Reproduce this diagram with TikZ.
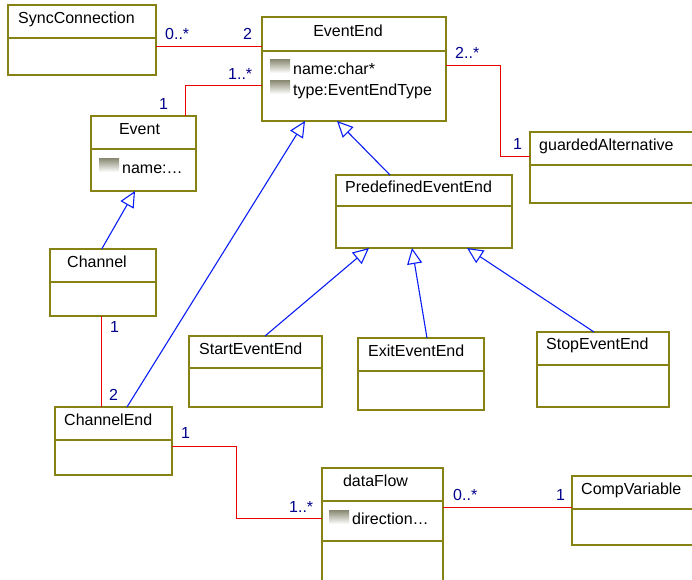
\documentclass[tikz,border=0pt]{standalone}
\usepackage{fontspec}
\setmainfont{Liberation Sans}
\usetikzlibrary{arrows.meta}

\definecolor{umlolive}{RGB}{134,130,20}
\definecolor{assocred}{RGB}{235,0,0}
\definecolor{genblue}{RGB}{10,30,245}
\definecolor{multnavy}{RGB}{0,0,140}
\definecolor{icongray}{RGB}{135,135,112}

\tikzset{
  cls/.style={draw=umlolive, line width=1.4pt, anchor=north west, inner sep=0pt, outer sep=0pt},
  clsline/.style={draw=umlolive, line width=1.4pt},
  ttl/.style={anchor=base west, inner sep=0pt, font=\fontsize{16}{18}\selectfont},
  ttlc/.style={ttl, anchor=base},
  mult/.style={ttl, text=multnavy},
  icon/.style={top color=icongray, bottom color=white},
  assoc/.style={draw=assocred, line width=1pt},
  gen/.style={draw=genblue, line width=1.1pt, -{Triangle[open, length=16pt, width=15pt]}}
}

% class box: name, corner, width, height, depth of the divider
\newcommand{\umlclass}[5]{%
  \node[cls, minimum width=#3, minimum height=#4] (#1) at (#2) {};
  \draw[clsline] ([yshift=-#5]#1.north west) -- ([yshift=-#5]#1.north east);
}

\begin{document}
\begin{tikzpicture}[x=1pt, y=-1pt]
  \useasboundingbox[fill=white] (0,0) rectangle (692,579);

  % classes
  \umlclass{sync}{8,5}{148}{70}{33}
  \umlclass{eventend}{262,17}{184}{104}{34}
  \umlclass{event}{91,116}{105}{75}{33}
  \umlclass{guarded}{530,132}{180}{71}{33}
  \umlclass{predef}{336,175}{176}{73}{31}
  \umlclass{channel}{50,249}{106}{67}{33}
  \umlclass{startee}{189,336}{133}{71}{32}
  \umlclass{exitee}{358,338}{126}{72}{33}
  \umlclass{stopee}{537,332}{132}{75}{33}
  \umlclass{chanend}{55,407}{117}{68}{33}
  \umlclass{dataflow}{322,468}{121}{125}{33}
  \umlclass{compvar}{572,476}{140}{69}{33}
  \draw[clsline] ([yshift=-73]dataflow.north west) -- ([yshift=-73]dataflow.north east);

  % titles
  \node[ttl] (syncT) at ([xshift=10, yshift=-18]sync.north west) {SyncConnection};
  \node[ttlc] (eventendT) at ([xshift=-6, yshift=-19]eventend.north) {EventEnd};
  \node[ttlc] (eventT) at ([xshift=-4, yshift=-18]event.north) {Event};
  \node[ttl] (guardedT) at ([xshift=9, yshift=-18]guarded.north west) {guardedAlternative};
  \node[ttl] (predefT) at ([xshift=9, yshift=-17]predef.north west) {PredefinedEventEnd};
  \node[ttlc] (channelT) at ([xshift=-6, yshift=-18]channel.north) {Channel};
  \node[ttl] (starteeT) at ([xshift=10, yshift=-18]startee.north west) {StartEventEnd};
  \node[ttl] (exiteeT) at ([xshift=10, yshift=-18]exitee.north west) {ExitEventEnd};
  \node[ttl] (stopeeT) at ([xshift=9, yshift=-17]stopee.north west) {StopEventEnd};
  \node[ttl] (chanendT) at ([xshift=9, yshift=-18]chanend.north west) {ChannelEnd};
  \node[ttlc] (dataflowT) at ([xshift=-7, yshift=-18]dataflow.north) {dataFlow};
  \node[ttl] (compvarT) at ([xshift=9, yshift=-18]compvar.north west) {CompVariable};

  % attributes
  \shade[icon] ([xshift=8, yshift=-42]eventend.north west) rectangle ++(20,14);
  \shade[icon] ([xshift=8, yshift=-63]eventend.north west) rectangle ++(20,14);
  \node[ttl] (eeName) at ([xshift=31, yshift=-57]eventend.north west) {name:char*};
  \node[ttl] (eeType) at ([xshift=31, yshift=-78]eventend.north west) {type:EventEndType};
  \shade[icon] ([xshift=8, yshift=-42]event.north west) rectangle ++(20,14);
  \node[ttl] (evName) at ([xshift=31, yshift=-57]event.north west) {name:…};
  \shade[icon] ([xshift=7, yshift=-42]dataflow.north west) rectangle ++(20,14);
  \node[ttl] (dfDir) at ([xshift=30, yshift=-56]dataflow.north west) {direction…};

  % associations
  \draw[assoc] ([yshift=-6.5]sync.east) -- ([yshift=22.5]eventend.west);
  \draw[assoc] ([xshift=42]event.north) |- ([yshift=-16.7]eventend.west);
  \draw[assoc] ([yshift=3.3]eventend.east) -- ++(54,0) |- ([yshift=11.5]guarded.west);
  \draw[assoc] ([xshift=-1.3]channel.south) -- ([xshift=-11.8]chanend.north);
  \draw[assoc] ([yshift=-5]chanend.east) -- ++(64,0) |- ([yshift=12.5]dataflow.west);
  \draw[assoc] ([yshift=23.5]dataflow.east) -- ([yshift=3.5]compvar.west);

  % multiplicities
  \node[mult] (m1) at (165,39) {0..*};
  \node[mult] (m2) at (243,39) {2};
  \node[mult] (m3) at (228,79) {1..*};
  \node[mult] (m4) at (159,109) {1};
  \node[mult] (m5) at (455,58) {2..*};
  \node[mult] (m6) at (513,149) {1};
  \node[mult] (m7) at (110,332) {1};
  \node[mult] (m8) at (109,400) {2};
  \node[mult] (m9) at (181,438) {1};
  \node[mult] (m10) at (289,512) {1..*};
  \node[mult] (m11) at (453,500) {0..*};
  \node[mult] (m12) at (556,500) {1};

  % generalizations
  \draw[gen] ([xshift=-1.3]channel.north) -- ([xshift=-8.5]event.south);
  \draw[gen] ([xshift=13.5]chanend.north) -- ([xshift=-49]eventend.south);
  \draw[gen] ([xshift=-34]predef.north) -- ([xshift=-17]eventend.south);
  \draw[gen] ([xshift=9.5]startee.north) -- ([xshift=-55]predef.south);
  \draw[gen] ([xshift=6]exitee.north) -- ([xshift=-12]predef.south);
  \draw[gen] ([xshift=-9]stopee.north) -- ([xshift=43]predef.south);
\end{tikzpicture}
\end{document}
